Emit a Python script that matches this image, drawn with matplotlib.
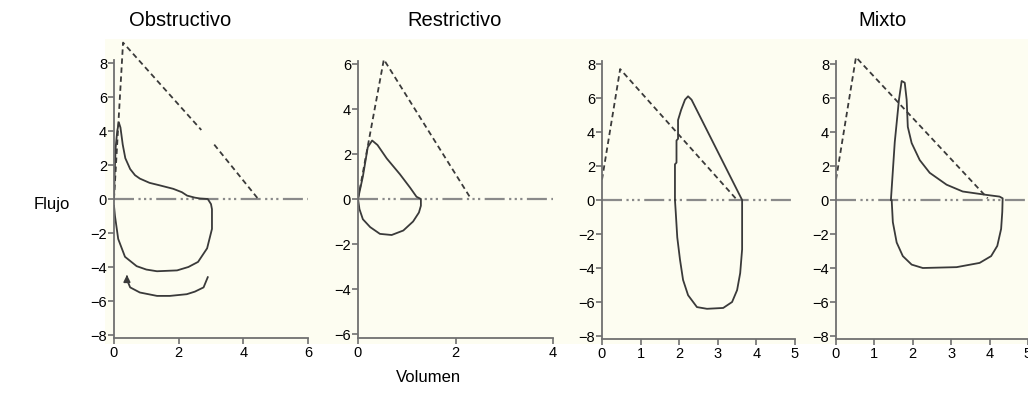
import matplotlib.pyplot as plt
from matplotlib.patches import Rectangle

plt.rcParams['font.family'] = ['Liberation Sans', 'DejaVu Sans']

# --- data (volumen L, flujo L/s) ---
# Obstructivo
obs_pred1_v = [0.0, 0.28, 2.7]
obs_pred1_f = [0.0, 9.2, 4.06]
obs_pred2_v = [3.1, 4.46]
obs_pred2_f = [3.2, 0.0]
obs_loop_v = [0.0, 0.02, 0.05, 0.1, 0.15, 0.2, 0.27, 0.35, 0.5, 0.65, 0.8, 1.1, 1.42, 1.83, 2.1, 2.26, 2.5, 2.66, 2.9,
              3.0, 3.03, 3.03, 2.88, 2.6, 2.3, 1.95, 1.33, 1.0, 0.7, 0.34, 0.13, 0.03, 0.0]
obs_loop_f = [0.0, 1.5, 3.0, 4.0, 4.5, 4.2, 3.2, 2.4, 1.76, 1.4, 1.2, 0.95, 0.8, 0.6, 0.4, 0.2, 0.08, 0.03, 0.0,
              -0.3, -0.6, -1.76, -2.9, -3.7, -4.0, -4.2, -4.25, -4.15, -3.95, -3.4, -2.35, -1.0, -0.4]
obs_tail_v = [2.9, 2.77, 2.5, 2.25, 1.73, 1.33, 0.8, 0.5, 0.4]
obs_tail_f = [-4.6, -5.2, -5.45, -5.6, -5.7, -5.7, -5.5, -5.2, -4.75]

# Restrictivo
res_pred_v = [0.0, 0.53, 2.32]
res_pred_f = [0.0, 6.2, 0.0]
res_loop_v = [0.0, 0.1, 0.2, 0.29, 0.4, 0.59, 0.86, 1.07, 1.2, 1.29,
              1.29, 1.25, 1.13, 0.93, 0.69, 0.45, 0.25, 0.1, 0.03, 0.0]
res_loop_f = [0.0, 1.0, 2.3, 2.6, 2.4, 1.8, 1.1, 0.5, 0.1, 0.0,
              -0.3, -0.6, -1.0, -1.4, -1.6, -1.55, -1.25, -0.9, -0.45, 0.0]

# Restrictivo (segundo ejemplo)
res2_pred_v = [0.0, 0.47, 3.5]
res2_pred_f = [1.2, 7.7, 0.0]
res2_loop_v = [1.89, 1.89, 1.93, 1.93, 1.97, 1.97, 2.05, 2.15, 2.23, 2.32, 3.63,
               3.63, 3.58, 3.5, 3.37, 3.14, 2.72, 2.46, 2.23, 2.1, 2.02, 1.95, 1.91, 1.89]
res2_loop_f = [0.0, 2.1, 2.2, 3.5, 3.6, 4.7, 5.3, 5.9, 6.1, 5.9, 0.0,
               -2.9, -4.3, -5.3, -6.0, -6.35, -6.4, -6.3, -5.6, -4.7, -3.5, -2.2, -0.7, 0.0]

# Mixto
mix_pred_v = [0.0, 0.52, 3.95]
mix_pred_f = [1.2, 8.4, 0.1]
mix_loop_v = [1.43, 1.53, 1.64, 1.71, 1.79, 1.84, 1.87, 1.97, 2.18, 2.44, 2.88, 3.3, 3.92, 4.26, 4.34,
              4.33, 4.3, 4.2, 4.04, 3.74, 3.14, 2.26, 1.97, 1.74, 1.58, 1.48, 1.45, 1.43]
mix_loop_f = [0.0, 3.4, 5.9, 7.0, 6.9, 5.9, 4.3, 3.35, 2.35, 1.6, 0.9, 0.5, 0.3, 0.2, 0.1,
              -0.7, -1.7, -2.7, -3.3, -3.7, -3.95, -4.0, -3.8, -3.3, -2.5, -1.3, 0.0, 0.0]

W, H = 1028, 414
fig = plt.figure(figsize=(W / 100, H / 100), dpi=100)

# fondo crema
fig.patches.append(Rectangle((105 / W, (H - 345) / H), 1 - 105 / W, 305 / H,
                             transform=fig.transFigure, facecolor='#fdfdf1',
                             edgecolor='none', zorder=-5))

GRAY = '#707070'
LINE = '#3a3a3a'


def make_axes(x0, x1, xmax, zero_px, px_per_unit, ylo, yhi, yticks, xticks):
    top_px = zero_px - yhi * px_per_unit
    bot_px = zero_px - ylo * px_per_unit
    ax = fig.add_axes([x0 / W, (H - bot_px) / H, (x1 - x0) / W, (bot_px - top_px) / H])
    ax.set_xlim(0, xmax)
    ax.set_ylim(ylo, yhi)
    ax.patch.set_visible(False)
    for s in ['top', 'right']:
        ax.spines[s].set_visible(False)
    for s in ['left', 'bottom']:
        ax.spines[s].set_color(GRAY)
        ax.spines[s].set_linewidth(1.3)
    ax.spines['left'].set_bounds(ylo, yticks[-1] + 0.15)
    ax.set_yticks(yticks)
    ax.set_xticks(xticks)
    ax.tick_params(colors=GRAY, labelcolor='black', labelsize=10.5, length=4, width=1.2, pad=1)
    ax.axhline(0, color='#8a8a8a', lw=1.6, dashes=(9, 2, 1, 1.5, 1, 1.5, 1, 2), zorder=1)
    return ax


ax1 = make_axes(114, 308, 6, 200, 17.0, -8.2, 9.6, range(-8, 9, 2), [0, 2, 4, 6])
ax1.plot(obs_pred1_v, obs_pred1_f, color=LINE, lw=1.3, ls=(0, (3, 2)))
ax1.plot(obs_pred2_v, obs_pred2_f, color=LINE, lw=1.3, ls=(0, (3, 2)))
ax1.plot(obs_loop_v, obs_loop_f, color=LINE, lw=1.3)
ax1.plot(obs_tail_v, obs_tail_f, color=LINE, lw=1.3)
ax1.annotate('', xy=(0.4, -4.3), xytext=(0.4, -4.75),
             arrowprops=dict(arrowstyle='-|>', color=LINE, lw=1.2, mutation_scale=10))

ax2 = make_axes(358, 553, 4, 200, 22.5, -6.18, 7.0, range(-6, 7, 2), [0, 2, 4])
ax2.plot(res_pred_v, res_pred_f, color=LINE, lw=1.3, ls=(0, (3, 2)))
ax2.plot(res_loop_v, res_loop_f, color=LINE, lw=1.3)

ax3 = make_axes(602, 795, 5, 201, 17.0, -8.2, 9.5, range(-8, 9, 2), range(0, 6))
ax3.plot(res2_pred_v, res2_pred_f, color=LINE, lw=1.3, ls=(0, (3, 2)))
ax3.plot(res2_loop_v, res2_loop_f, color=LINE, lw=1.3)

ax4 = make_axes(836, 1028, 5, 201, 17.0, -8.2, 9.5, range(-8, 9, 2), range(0, 6))
ax4.plot(mix_pred_v, mix_pred_f, color=LINE, lw=1.3, ls=(0, (3, 2)))
ax4.plot(mix_loop_v, mix_loop_f, color=LINE, lw=1.3)

fig.text(180 / W, 1 - 20 / H, 'Obstructivo', ha='center', va='center', fontsize=14.5)
fig.text(455 / W, 1 - 20 / H, 'Restrictivo', ha='center', va='center', fontsize=14.5)
fig.text(882 / W, 1 - 20 / H, 'Mixto', ha='center', va='center', fontsize=14.5)
fig.text(52 / W, 1 - 205 / H, 'Flujo', ha='center', va='center', fontsize=12)
fig.text(428 / W, 1 - 378 / H, 'Volumen', ha='center', va='center', fontsize=12)

fig.savefig('out.png', dpi=100)
